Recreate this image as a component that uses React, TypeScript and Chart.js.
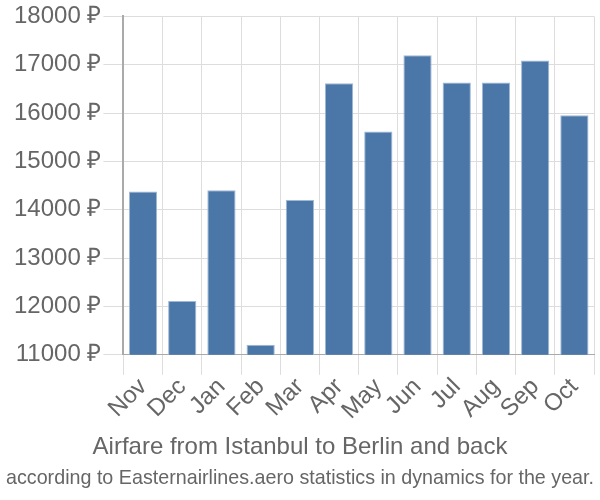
import React, { useEffect, useRef } from "react";
import { Chart, registerables } from "chart.js";

Chart.register(...registerables);

const months = ["Nov", "Dec", "Jan", "Feb", "Mar", "Apr", "May", "Jun", "Jul", "Aug", "Sep", "Oct"];
const prices = [14380, 12115, 14405, 11210, 14200, 16615, 15620, 17195, 16635, 16635, 17090, 15955];
const titleText = "Airfare from Istanbul to Berlin and back";
const subtitleText = "according to Easternairlines.aero statistics in dynamics for the year.";

export default function App() {
  const ref = useRef<HTMLCanvasElement>(null);
  useEffect(() => {
    document.body.style.margin = "0";
    if (!ref.current) return;
    const font = "'Liberation Sans', Arial, sans-serif";
    const chart = new Chart(ref.current, {
      type: "bar",
      data: {
        labels: months,
        datasets: [
          {
            data: prices,
            backgroundColor: "#4a76a8",
            borderColor: "#9fb8d6",
            borderWidth: 1,
          },
        ],
      },
      options: {
        responsive: false,
        animation: false,
        layout: { padding: { left: 6, right: 6, top: 2, bottom: 0 } },
        plugins: {
          legend: { display: false },
          tooltip: { enabled: false },
          title: {
            display: true,
            position: "bottom",
            text: titleText,
            color: "#666",
            font: { family: font, size: 24, weight: "normal" },
            padding: { top: 10, bottom: 2 },
            weight: 1000,
          } as any,
          subtitle: {
            display: true,
            position: "bottom",
            text: subtitleText,
            color: "#666",
            font: { family: font, size: 20.8, weight: "normal" },
            padding: { top: 2, bottom: 9 },
          },
        },
        scales: {
          x: {
            grid: { color: "#dddddd", offset: true, tickLength: 20, lineWidth: 1 },
            border: { color: "#aaa" },
            ticks: {
              color: "#666",
              font: { family: font, size: 24 },
              maxRotation: 45,
              minRotation: 45,
              autoSkip: false,
              padding: -2,
            },
          },
          y: {
            min: 11000,
            max: 18000,
            afterFit: (scale: any) => {
              scale.width += 6;
            },
            grid: { color: "#dddddd", tickLength: 20 },
            border: { color: "#aaa", width: 2 },
            ticks: {
              stepSize: 1000,
              color: "#666",
              font: { family: font, size: 24 },
              callback: (v: any) => v + " ₽",
              padding: 2,
            },
          },
        },
      },
    });
    return () => chart.destroy();
  }, []);
  return <canvas ref={ref} width={600} height={500} style={{ display: "block" }} />;
}
